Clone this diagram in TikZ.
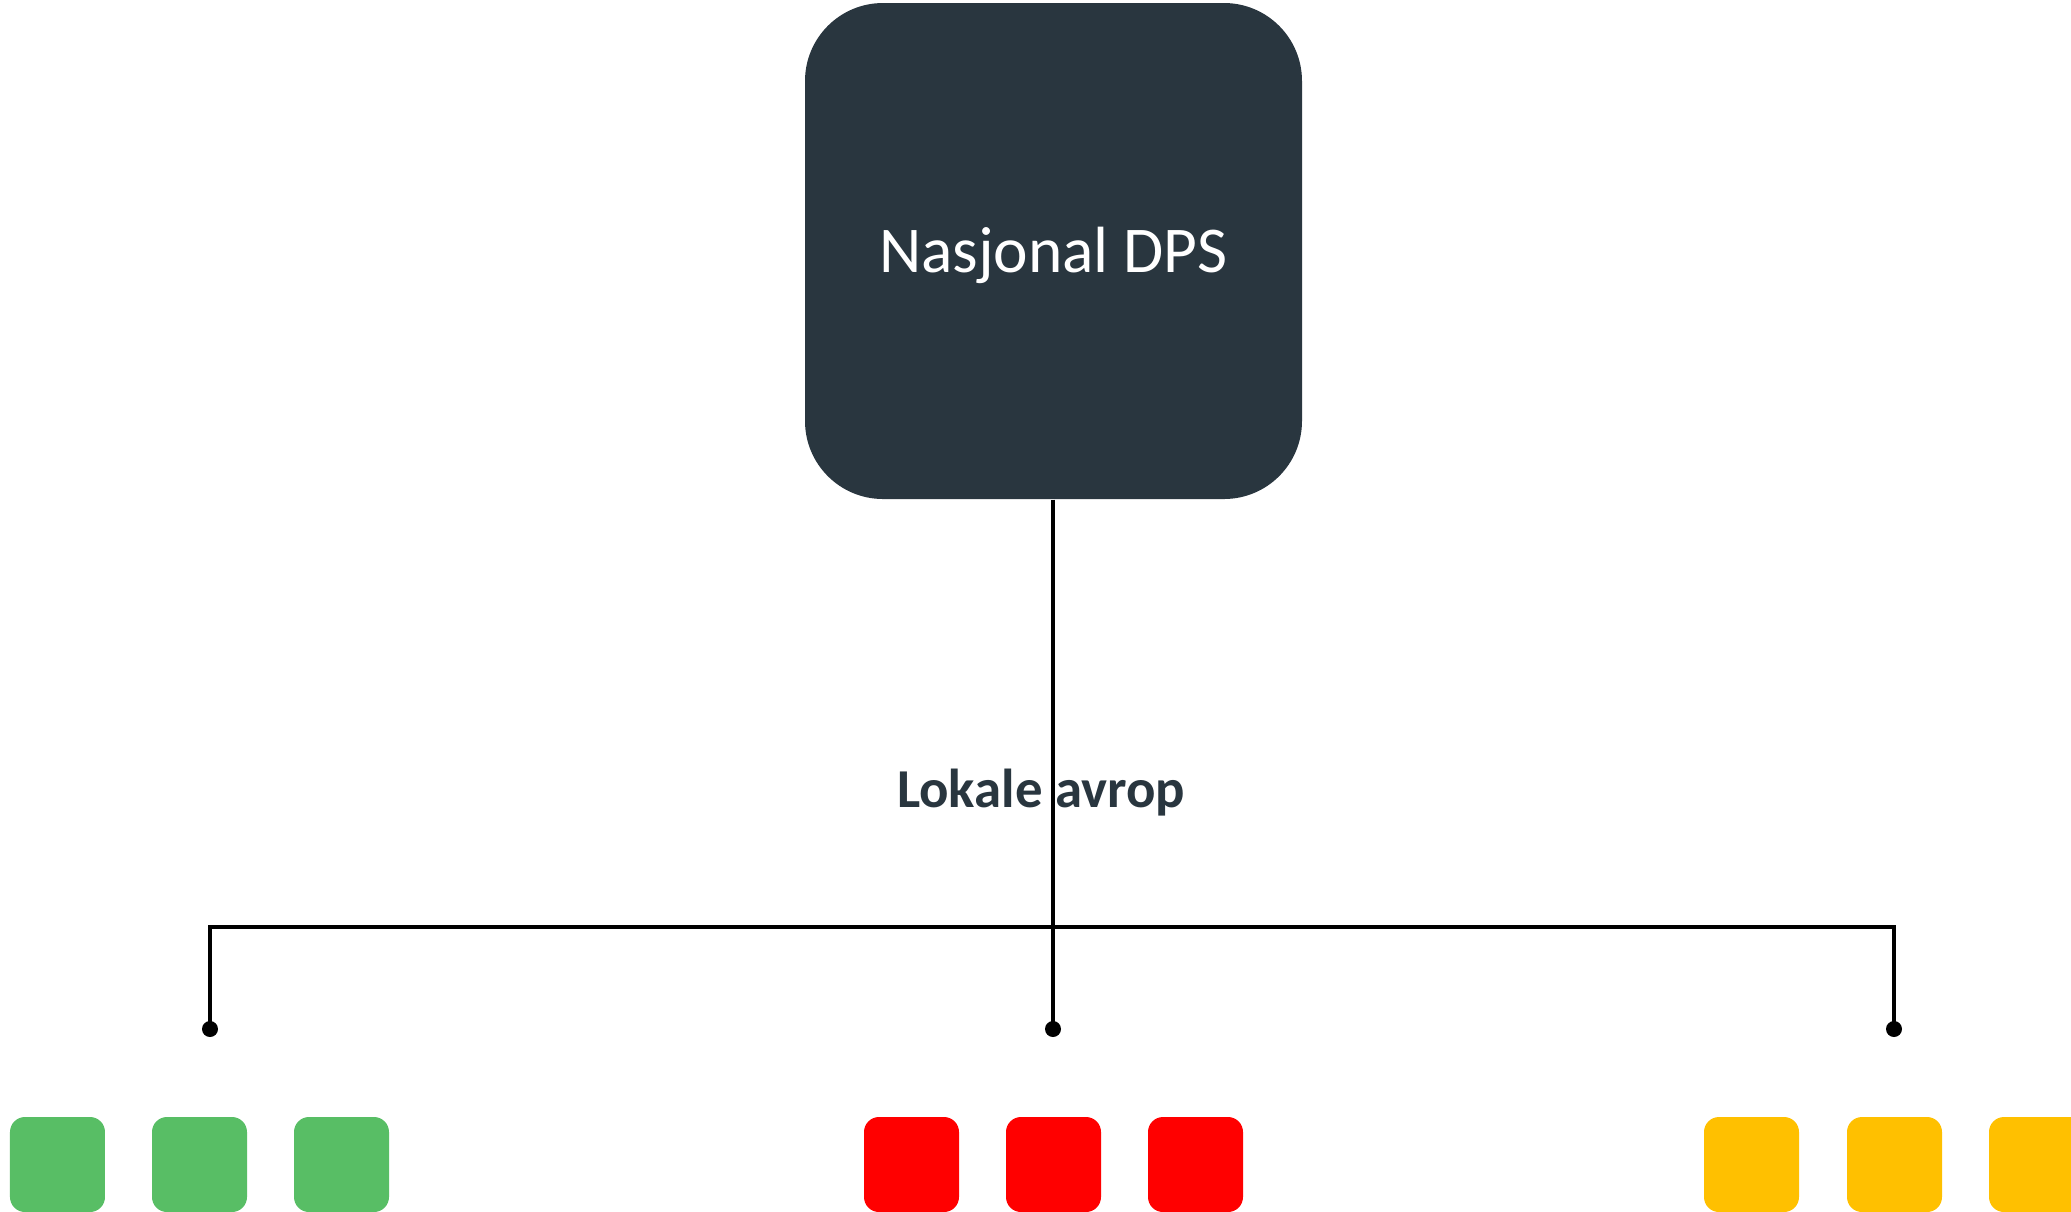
\documentclass[tikz,border=0pt]{standalone}
\usepackage{fontspec}
\setmainfont{Carlito}
\definecolor{slate}{HTML}{29363F}
\definecolor{tgreen}{HTML}{58BE65}
\definecolor{tred}{HTML}{FF0000}
\definecolor{tyellow}{HTML}{FFC000}
\tikzset{
  mainbox/.style={fill=slate, draw=none, rounded corners=0.78cm, minimum width=4.97cm, minimum height=4.96cm, text=white, inner sep=0pt, font=\fontsize{18.6pt}{20pt}\selectfont, text height=0.43cm, text depth=0pt},
  leaf/.style={draw=none, rounded corners=0.15cm, minimum width=0.95cm, minimum height=0.95cm, inner sep=0pt},
  conn/.style={line width=1.3pt, draw=black},
  dotnode/.style={circle, fill=black, minimum size=0.16cm, inner sep=0pt},
  lbl/.style={text=slate, font=\bfseries\fontsize{15.6pt}{17pt}\selectfont, anchor=base, inner sep=0pt}
}
\begin{document}
\begin{tikzpicture}
\useasboundingbox (0,0) rectangle (20.71,-12.11);
\fill[white] (0,0) rectangle (20.71,-12.11);

\node[mainbox] (main) at (10.535,-2.51) {Nasjonal DPS};

\node[dotnode] (ldot) at (2.10,-10.29) {};
\node[dotnode] (mdot) at (10.53,-10.29) {};
\node[dotnode] (rdot) at (18.94,-10.29) {};

\coordinate (jl) at (2.10,-9.27);
\coordinate (jr) at (18.94,-9.27);

\draw[conn] (main.south -| mdot) -- (mdot.center);
\draw[conn] (ldot.center) -- (jl) -- (jr) -- (rdot.center);

\node[lbl] (lokale) at (10.41,-8.07) {Lokale avrop};

\node[leaf, fill=tgreen] (g1) at (0.575,-11.645) {};
\node[leaf, fill=tgreen] (g2) at (1.995,-11.645) {};
\node[leaf, fill=tgreen] (g3) at (3.415,-11.645) {};
\node[leaf, fill=tred] (r1) at (9.115,-11.645) {};
\node[leaf, fill=tred] (r2) at (10.535,-11.645) {};
\node[leaf, fill=tred] (r3) at (11.955,-11.645) {};
\node[leaf, fill=tyellow] (y1) at (17.515,-11.645) {};
\node[leaf, fill=tyellow] (y2) at (18.945,-11.645) {};
\node[leaf, fill=tyellow] (y3) at (20.365,-11.645) {};
\end{tikzpicture}
\end{document}
